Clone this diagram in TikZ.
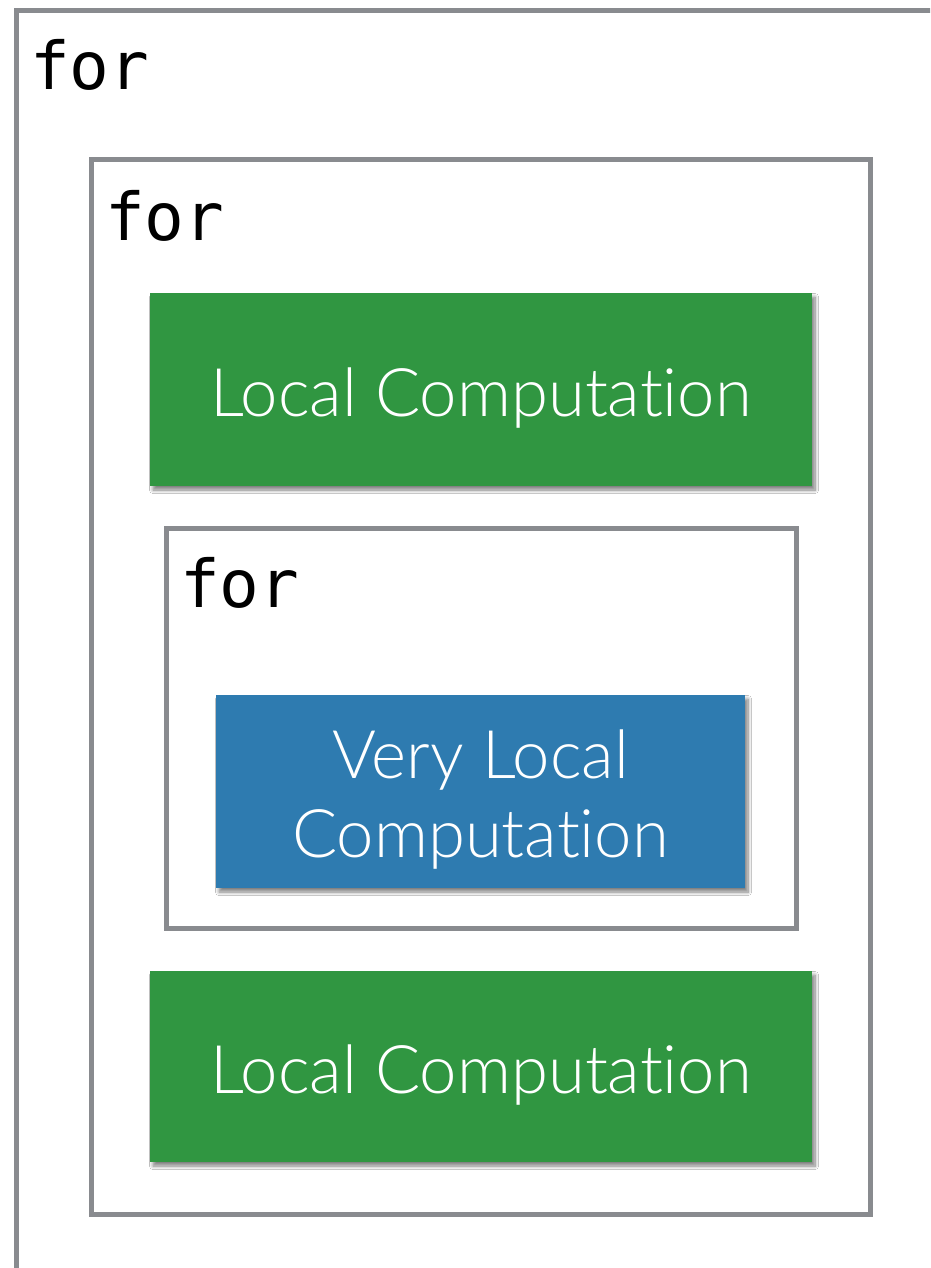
\documentclass[tikz,border=0pt]{standalone}
\usepackage{fontspec}
\setsansfont{Lato Light}[Ligatures=NoCommon]
\newfontfamily\codefont{DejaVu Sans Mono}
\usetikzlibrary{shadows.blur}
\definecolor{loopgray}{RGB}{137,139,143}
\definecolor{compgreen}{RGB}{48,150,65}
\definecolor{compblue}{RGB}{46,123,176}
\begin{document}
\begin{tikzpicture}[x=1pt,y=-1pt,
  loopbox/.style={draw=loopgray, line width=5pt, rectangle, inner sep=0pt, outer sep=0pt, fill=white},
  comp/.style={rectangle, inner sep=0pt, outer sep=0pt, text=white, align=center,
    font=\sffamily\fontsize{67}{79}\selectfont,
    blur shadow={shadow xshift=3pt, shadow yshift=-4pt, shadow blur steps=8, shadow blur radius=3.5pt, shadow opacity=50}},
  greenbox/.style={comp, fill=compgreen, minimum width=662pt, text height=60pt, text depth=7pt},
  bluebox/.style={comp, fill=compblue, minimum width=529pt, minimum height=193pt, text height=140pt, text depth=9pt},
  kw/.style={anchor=base west, inner sep=0pt, font=\codefont\fontsize{66}{70}\selectfont, text=black}]
\useasboundingbox (0,0) rectangle (930,1268);
\clip (0,0) rectangle (930,1268);
\fill[white] (0,0) rectangle (930,1268);
% loops
\node[loopbox, minimum width=960pt, minimum height=1300pt, anchor=north west] (outer) at (16.5,10.5) {};
\node[kw] (for1) at (30,90) {for};
\node[loopbox, minimum width=779.5pt, minimum height=1054pt] (middle) at (480.75,687) {};
\node[kw] (for2) at (105,240) {for};
\node[greenbox, minimum height=193pt] (local1) at (481,389.5) {Local Computation};
\node[loopbox, minimum width=630pt, minimum height=400pt] (inner) at (481,728) {};
\node[kw] (for3) at (180,607) {for};
\node[bluebox] (verylocal) at (480.5,791.5) {Very Local\\Computation};
\node[greenbox, minimum height=191pt] (local2) at (481,1066.5) {Local Computation};
\end{tikzpicture}
\end{document}
